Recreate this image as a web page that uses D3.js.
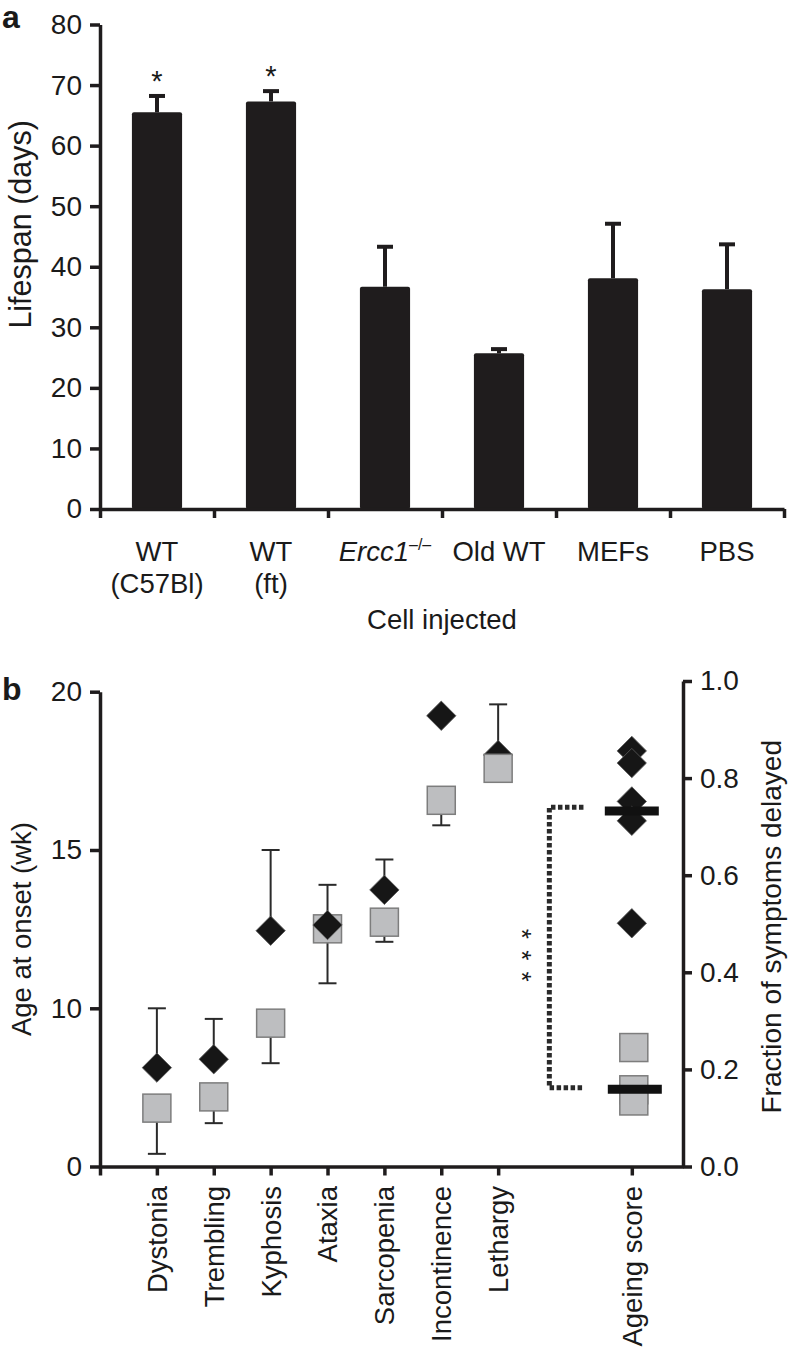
<!DOCTYPE html>
<html><head><meta charset="utf-8">
<script src="https://cdn.jsdelivr.net/npm/d3@7"></script>
<style>
body{margin:0;background:#fff}
svg{display:block}
text{font-family:"Liberation Sans",Arial,Helvetica,sans-serif;fill:#1a1a1a}
</style>
</head><body>
<svg id="c" width="788" height="1348"></svg>
<script>
// ---------- data: panel a ----------
const cellCats = ["WT (C57Bl)", "WT (ft)", "Ercc1-/-", "Old WT", "MEFs", "PBS"];
const cellLine1 = ["WT", "WT", "Ercc1", "Old WT", "MEFs", "PBS"];
const cellLine2 = ["(C57Bl)", "(ft)", "", "", "", ""];
const lifespan = [65.5, 67.3, 36.7, 25.7, 38.1, 36.3];
const lifespanSem = [2.7, 1.7, 6.6, 0.7, 9.0, 7.4];
const lifespanSig = [true, true, false, false, false, false];
const lifespanTicks = [0, 10, 20, 30, 40, 50, 60, 70, 80];

// ---------- data: panel b ----------
const symptoms = ["Dystonia", "Trembling", "Kyphosis", "Ataxia", "Sarcopenia", "Incontinence", "Lethargy"];
const onsetTreated = [6.25, 6.78, 12.45, 12.63, 13.74, 19.24, 18.0];
const onsetTreatedUpper = [10.0, 9.33, 15.0, 13.9, 14.7, null, 19.6];
const onsetControl = [3.69, 4.40, 9.06, 12.51, 12.72, 16.57, 17.58];
const onsetControlLower = [0.8, 2.74, 6.53, 10.79, 12.1, 15.78, 17.3];
const diamondOnTop = [true, true, true, true, true, true, false];
const onsetTicks = [0, 10, 15, 20];
const ageingTreated = [0.856, 0.831, 0.752, 0.712, 0.501];
const ageingControl = [0.245, 0.158, 0.135];
const ageingMedians = [0.732, 0.159];
const fractionTicks = [0, 0.2, 0.4, 0.6, 0.8, 1.0];

const svg = d3.select("#c");
const INK = "#1f1c1d";
const FS = 28;

// ================= PANEL A =================
const xA = d3.scaleBand().domain(cellCats).range([100, 784]).paddingInner(0.56).paddingOuter(0.28);
const xAb = d3.scaleLinear().domain([0, cellCats.length]).range([100, 784]);
const yA = d3.scaleLinear().domain([0, 80]).range([509, 24.5]);
const gA = svg.append("g");

// error bars
const errA = gA.append("g").attr("stroke", INK).attr("stroke-width", 4);
cellCats.forEach((c, i) => {
  const cx = xA(c) + xA.bandwidth() / 2;
  const top = yA(lifespan[i] + lifespanSem[i]);
  errA.append("line").attr("x1", cx).attr("x2", cx).attr("y1", yA(lifespan[i])).attr("y2", top);
  errA.append("line").attr("x1", cx - 8).attr("x2", cx + 8).attr("y1", top).attr("y2", top);
});
// bars
gA.selectAll("rect.bar").data(cellCats).join("rect")
  .attr("class", "bar")
  .attr("x", d => xA(d)).attr("width", xA.bandwidth())
  .attr("y", (d, i) => yA(lifespan[i]))
  .attr("height", (d, i) => yA(0) - yA(lifespan[i]))
  .attr("rx", 2)
  .attr("fill", INK);
// stars
cellCats.forEach((c, i) => {
  if (!lifespanSig[i]) return;
  gA.append("text").attr("x", xA(c) + xA.bandwidth() / 2)
    .attr("y", yA(lifespan[i] + lifespanSem[i]) - 5)
    .attr("text-anchor", "middle").attr("font-size", 29).text("*");
});

// axes
const axA = gA.append("g").attr("transform", "translate(100,0)")
  .call(d3.axisLeft(yA).tickValues(lifespanTicks).tickSize(10).tickPadding(8).tickSizeOuter(0));
const axAx = gA.append("g").attr("transform", "translate(0,509)")
  .call(d3.axisBottom(xAb).tickValues(d3.range(cellCats.length + 1)).tickFormat("").tickSize(9).tickSizeOuter(0));
[axA, axAx].forEach(a => {
  a.select(".domain").attr("stroke", INK).attr("stroke-width", 3.5);
  a.selectAll(".tick line").attr("stroke", INK).attr("stroke-width", 3.5);
  a.selectAll(".tick text").attr("font-size", FS).attr("font-family", null).attr("fill", INK);
});

// category labels
cellCats.forEach((c, i) => {
  const cx = xA(c) + xA.bandwidth() / 2;
  const t = gA.append("text").attr("x", cx).attr("y", 561).attr("text-anchor", "middle").attr("font-size", 27.5);
  if (cellLine1[i] === "Ercc1") {
    t.append("tspan").attr("font-style", "italic").text("Ercc1");
    t.append("tspan").attr("font-size", 16).attr("dy", -11).text("\u2013/\u2013");
  } else {
    t.text(cellLine1[i]);
  }
  if (cellLine2[i]) {
    gA.append("text").attr("x", cx).attr("y", 593).attr("text-anchor", "middle").attr("font-size", 27.5).text(cellLine2[i]);
  }
});
gA.append("text").attr("x", 442).attr("y", 629).attr("text-anchor", "middle").attr("font-size", 27.5).text("Cell injected");
gA.append("text").attr("transform", `translate(31,${yA(47)}) rotate(-90)`)
  .attr("text-anchor", "middle").attr("font-size", 30.5).text("Lifespan (days)");
svg.append("text").attr("x", 2).attr("y", 28).attr("font-size", 32).attr("font-weight", "bold").text("a");

// ================= PANEL B =================
const xB = d3.scaleLinear().domain([0, 10.25]).range([100, 683]);
const catPos = [1, 2, 3, 4, 5, 6, 7];
const ageingPos = 9.35;
const yL = d3.scaleLinear().domain([0, 10, 20]).range([1166.5, 1008.3, 691.7]);
const yR = d3.scaleLinear().domain([0, 1]).range([1166.5, 681]);
const gB = svg.append("g");

// axes
const axL = gB.append("g").attr("transform", "translate(100,0)")
  .call(d3.axisLeft(yL).tickValues(onsetTicks).tickSize(10).tickPadding(8).tickSizeOuter(0));
const axR = gB.append("g").attr("transform", "translate(683,0)")
  .call(d3.axisRight(yR).tickValues(fractionTicks).tickFormat(d3.format(".1f")).tickSize(9).tickPadding(8).tickSizeOuter(0));
const axB = gB.append("g").attr("transform", "translate(0,1166.5)")
  .call(d3.axisBottom(xB).tickValues([0, ...catPos, ageingPos]).tickFormat("").tickSize(9).tickSizeOuter(0));
[axL, axR, axB].forEach(a => {
  a.select(".domain").attr("stroke", INK).attr("stroke-width", 3.5);
  a.selectAll(".tick line").attr("stroke", INK).attr("stroke-width", 3.5);
  a.selectAll(".tick text").attr("font-size", FS).attr("font-family", null).attr("fill", INK);
});

// rotated category labels
[...symptoms, "Ageing score"].forEach((s, i) => {
  const x = i < symptoms.length ? xB(catPos[i]) : xB(ageingPos);
  gB.append("text").attr("transform", `translate(${x},1186) rotate(-90)`)
    .attr("text-anchor", "end").attr("dy", "0.36em").attr("font-size", 27.5).text(s);
});

// axis titles
gB.append("text").attr("transform", `translate(31,${(yL(0) + yL(20)) / 2}) rotate(-90)`)
  .attr("text-anchor", "middle").attr("font-size", 27.5).text("Age at onset (wk)");
gB.append("text").attr("transform", `translate(781,${(yR(0) + yR(1)) / 2 + 3}) rotate(-90)`)
  .attr("text-anchor", "middle").attr("font-size", 28).text("Fraction of symptoms delayed");
svg.append("text").attr("x", 2).attr("y", 700).attr("font-size", 32).attr("font-weight", "bold").text("b");

const diamond = d3.symbol(d3.symbolSquare, 430);
const GREY = "#bdbec0", GREY_STROKE = "#7d7d7d", DIA = "#161616";

// error bars (thin)
const errB = gB.append("g").attr("stroke", "#2a2a2a").attr("stroke-width", 2);
symptoms.forEach((s, i) => {
  const x = xB(catPos[i]);
  if (onsetTreatedUpper[i] != null) {
    const t = yL(onsetTreatedUpper[i]);
    errB.append("line").attr("x1", x).attr("x2", x).attr("y1", yL(onsetTreated[i])).attr("y2", t);
    errB.append("line").attr("x1", x - 9).attr("x2", x + 9).attr("y1", t).attr("y2", t);
  }
  const b = yL(onsetControlLower[i]);
  errB.append("line").attr("x1", x).attr("x2", x).attr("y1", yL(onsetControl[i])).attr("y2", b);
  errB.append("line").attr("x1", x - 9).attr("x2", x + 9).attr("y1", b).attr("y2", b);
});

function drawSquare(g, x, y) {
  g.append("rect").attr("x", x - 14).attr("y", y - 14).attr("width", 28).attr("height", 28)
    .attr("fill", GREY).attr("stroke", GREY_STROKE).attr("stroke-width", 1.5);
}
function drawDiamond(g, x, y) {
  g.append("path").attr("d", diamond).attr("transform", `translate(${x},${y}) rotate(45)`)
    .attr("fill", DIA).attr("stroke", "#5a5a5a").attr("stroke-width", 0.8);
}
symptoms.forEach((s, i) => {
  const x = xB(catPos[i]);
  const g = gB.append("g");
  if (diamondOnTop[i]) {
    drawSquare(g, x, yL(onsetControl[i]));
    drawDiamond(g, x, yL(onsetTreated[i]));
  } else {
    drawDiamond(g, x, yL(onsetTreated[i]));
    drawSquare(g, x, yL(onsetControl[i]));
  }
});

// ageing score
const xa = xB(ageingPos);
ageingControl.forEach(v => drawSquare(gB, xa + 2, yR(v)));
ageingTreated.forEach(v => drawDiamond(gB, xa, yR(v)));
ageingMedians.forEach((m, k) => {
  const cx = xa + (k === 0 ? 0 : 3);
  gB.append("line").attr("x1", cx - 27).attr("x2", cx + 27).attr("y1", yR(m)).attr("y2", yR(m))
    .attr("stroke", "#111").attr("stroke-width", 9);
});

// significance bracket
const bx0 = xB(7.9), bx1 = xB(8.5);
gB.append("path")
  .attr("d", `M${bx1},${yR(0.74)} H${bx0} V${yR(0.162)} H${bx1}`)
  .attr("fill", "none").attr("stroke", "#2a2a2a").attr("stroke-width", 5)
  .attr("stroke-dasharray", "4.5,2.5");
// three stacked asterisks as one rotated text
gB.append("text")
  .attr("transform", `translate(${xB(7.52)},${yR(0.433)}) rotate(90)`)
  .attr("text-anchor", "middle").attr("dy", "0.585em")
  .attr("font-size", 26).attr("letter-spacing", 2)
  .text("* * *");
</script>
</body></html>
